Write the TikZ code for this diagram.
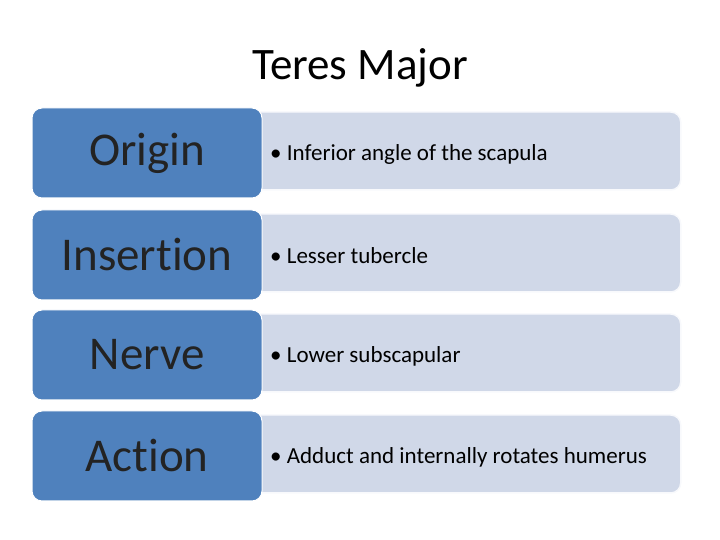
\documentclass[tikz,border=0pt]{standalone}
\usepackage{fontspec}
\setmainfont[Ligatures=NoCommon]{Carlito}
\definecolor{headblue}{RGB}{79,129,189}
\definecolor{itemgray}{RGB}{208,216,232}
\definecolor{headtext}{RGB}{35,35,35}
\tikzset{%
  head/.style = { draw=white, line width=1pt, fill=headblue, rounded corners=10pt, text=headtext,
                  minimum width=230pt, minimum height=90pt, inner sep=0pt,
                  font=\fontsize{47}{54}\selectfont },
  item/.style = { draw=white!85!itemgray, line width=1.5pt, fill=itemgray, rounded corners=10pt,
                  minimum width=430pt, minimum height=78pt, anchor=west, inner sep=0pt,
                  text width=430pt, align=left, font=\fontsize{23}{28}\selectfont }
}
\begin{document}
\begin{tikzpicture}[x=1pt,y=1pt]
  \useasboundingbox (0,0) rectangle (720,540);
  \node[font=\fontsize{45}{52}\selectfont] (title) at (360,472) {Teres Major};

  % rows
  \foreach \y/\name/\head/\txt in {387/orig/Origin/Inferior angle of the scapula,
                                    285/ins/Insertion/Lesser tubercle,
                                    185/nerve/Nerve/Lower subscapular,
                                    84/act/Action/Adduct and internally rotates humerus} {
    \node[item] (\name-item) at (250,\y+2) {};
    \node[anchor=west, font=\fontsize{23}{28}\selectfont, inner sep=0pt] (\name-text)
      at (270,\y-1) {\textbullet\ \txt};
    \node[head] (\name) at (147,\y) {\head};
  }
\end{tikzpicture}
\end{document}
